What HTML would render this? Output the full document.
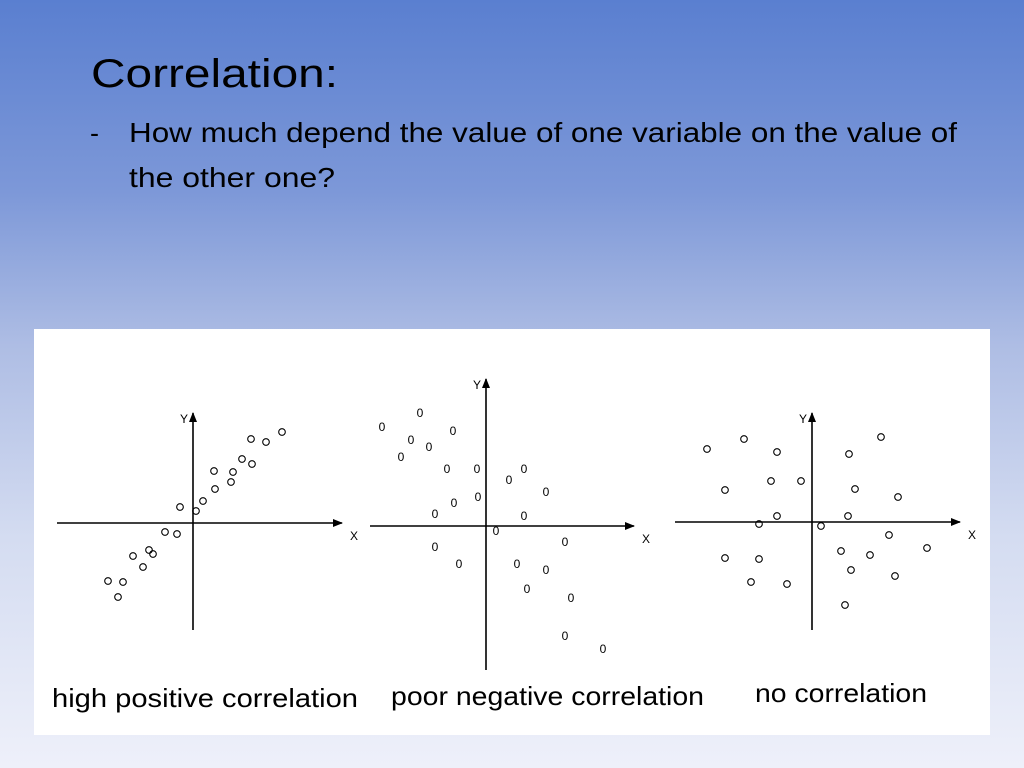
<!DOCTYPE html>
<html><head><meta charset="utf-8"><style>
body{margin:0;width:1024px;height:768px;overflow:hidden;font-family:"Liberation Sans",sans-serif;
background:linear-gradient(180deg,#5a7fd0 0%,#7d98d8 25%,#aebde4 45%,#d4dcf1 70%,#eef0fa 100%);}
</style></head><body>
<svg style="position:absolute;left:0;top:0" width="1024" height="768" font-family="Liberation Sans, sans-serif">
<defs><marker id="ar" markerWidth="10" markerHeight="8" refX="9" refY="4" orient="auto" markerUnits="userSpaceOnUse"><path d="M0,0L10,4L0,8Z" fill="#000"/></marker></defs>
<text x="91" y="87" font-size="40" textLength="247" lengthAdjust="spacingAndGlyphs">Correlation:</text>
<text x="90" y="142" font-size="27">-</text>
<text x="129" y="142" font-size="28" textLength="828" lengthAdjust="spacingAndGlyphs">How much depend the value of one variable on the value of</text>
<text x="129" y="187" font-size="28" textLength="206" lengthAdjust="spacingAndGlyphs">the other one?</text>
<rect x="34" y="329" width="956" height="406" fill="#fff"/>
<g id="g"></g>
<text x="52" y="707" font-size="26" textLength="306" lengthAdjust="spacingAndGlyphs">high  positive correlation</text>
<text x="391" y="705" font-size="26" textLength="313" lengthAdjust="spacingAndGlyphs">poor negative correlation</text>
<text x="755" y="702" font-size="26" textLength="172" lengthAdjust="spacingAndGlyphs">no correlation</text>
</svg>
<script>
const posDx=[-13,3,10,21,22,40,38,49,59,58,73,89,-28,-16,-44,-40,-60,-50,-85,-70,-75];
const posDy=[16,12,22,52,34,51,41,64,59,84,81,91,-9,-11,-27,-31,-33,-44,-58,-59,-74];
const negDx=[-104,-66,-33,-75,-57,-85,-39,-9,38,23,60,-8,-32,-51,38,10,79,-51,-27,31,60,41,85,79,117];
const negDy=[99,113,95,86,79,69,57,57,57,46,34,29,23,12,10,-5,-16,-21,-38,-38,-44,-63,-72,-110,-123];
const noDx=[-105,-68,-35,37,69,-87,-41,-11,43,86,-35,-53,9,36,77,115,-87,-53,29,58,39,-61,-25,83,33];
const noDy=[73,83,70,68,85,32,41,41,33,25,6,-2,-4,6,-13,-26,-36,-37,-29,-33,-48,-60,-62,-54,-83];
const g=document.getElementById('g');const NS='http://www.w3.org/2000/svg';
function mk(t,a){const e=document.createElementNS(NS,t);for(const k in a)e.setAttribute(k,a[k]);g.appendChild(e);return e;}
function axes(ox,oy,x0,x1,y0,y1,pre){
 let l=mk('line',{x1:x0,y1:oy,x2:x1,y2:oy,stroke:'#000','stroke-width':1.6,'marker-end':'url(#ar)'});
 
 l=mk('line',{x1:ox,y1:y1,x2:ox,y2:y0,stroke:'#000','stroke-width':1.6,'marker-end':'url(#ar)'});
 
 let t=mk('text',{x:x1+8,y:oy+17,'font-size':12});t.textContent='X';
 
 t=mk('text',{x:ox-13,y:y0+10,'font-size':12});t.textContent='Y';
 
}
function circles(ox,oy,dx,dy,pre){for(let i=0;i<dx.length;i++){const c=mk('circle',{cx:ox+dx[i],cy:oy-dy[i],r:3.3,fill:'none',stroke:'#000','stroke-width':1.1});
 }}
function zeros(ox,oy,dx,dy,pre){for(let i=0;i<dx.length;i++){const t=mk('text',{x:ox+dx[i],y:oy-dy[i]+4,'font-size':12,'text-anchor':'middle'});t.textContent='0';
 }}
axes(193,523,57,342,413,630,'positive');circles(193,523,posDx,posDy,'positive');
axes(486,526,370,634,379,670,'negative');zeros(486,526,negDx,negDy,'negative');
axes(812,522,675,960,413,630,'none');circles(812,522,noDx,noDy,'none');
</script>
</body></html>
